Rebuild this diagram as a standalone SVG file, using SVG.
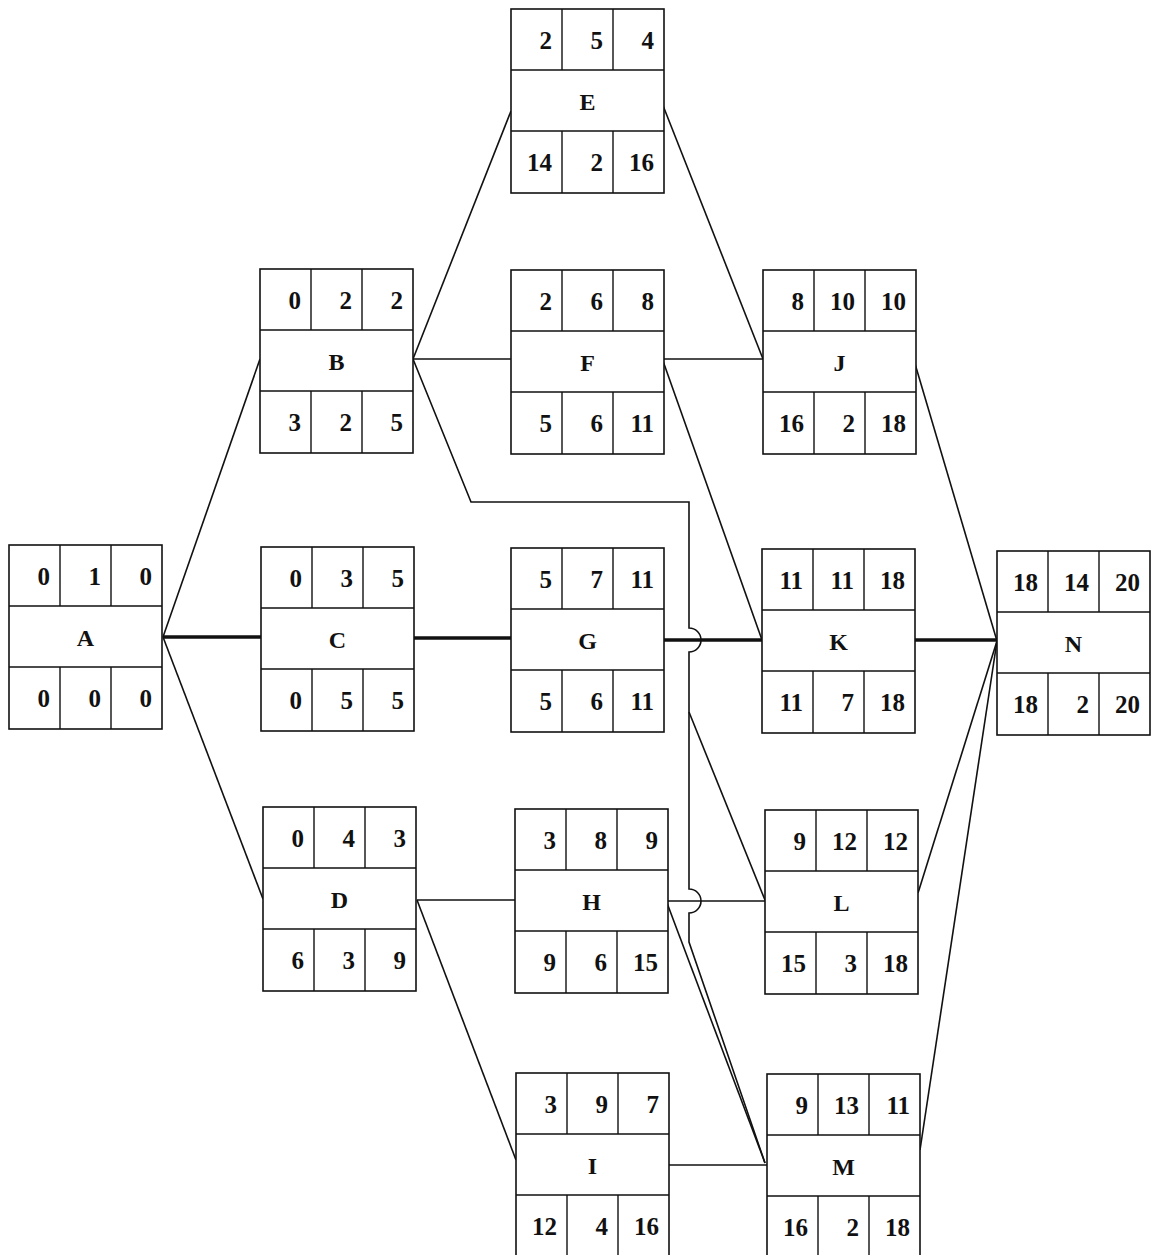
<svg xmlns="http://www.w3.org/2000/svg" width="1155" height="1255" viewBox="0 0 1155 1255">
<style>
.box{fill:#fff;stroke:#111;stroke-width:1.6}
.div{stroke:#111;stroke-width:1.4;fill:none}
.num{font-family:"Liberation Serif",serif;font-size:25px;font-weight:bold;fill:#111;text-anchor:end}
.lbl{font-family:"Liberation Serif",serif;font-size:24px;font-weight:bold;fill:#111;text-anchor:middle}
.c{stroke:#111;stroke-width:1.6;fill:none}
.h{stroke:#111;stroke-width:3.5;fill:none}
</style>
<defs>
<g id="grid">
<rect class="box" x="0" y="0" width="153" height="184"/>
<path class="div" d="M0 61H153M0 122H153M51 0V61M102 0V61M51 122V184M102 122V184"/>
</g>
</defs>
<rect width="1155" height="1255" fill="#fff"/>
<g id="connectors">
<path class="h" d="M163 637H261"/>
<path class="h" d="M413 638H511"/>
<path class="h" d="M663 640H762"/>
<path class="h" d="M915 640H997"/>
<path class="c" d="M163 637L260 359"/>
<path class="c" d="M163 637L263 899"/>
<path class="c" d="M413 359L511 111"/>
<path class="c" d="M413 359H511"/>
<path class="c" d="M413 359L471 502H689V628A12 12 0 0 1 689 652V889A12 12 0 0 1 689 913V942L765 1163"/>
<path class="c" d="M689 712L765 900"/>
<path class="c" d="M662 103L763 359"/>
<path class="c" d="M663 359H763"/>
<path class="c" d="M663 361L762 640"/>
<path class="c" d="M913 357L997 641"/>
<path class="c" d="M918 893L997 641"/>
<path class="c" d="M920 1150L997 641"/>
<path class="c" d="M417 900H515"/>
<path class="c" d="M417 900L516 1160"/>
<path class="c" d="M667 901H765"/>
<path class="c" d="M667 903L765 1163"/>
<path class="c" d="M668 1165H767"/>
</g>
<g id="A" transform="translate(9,545)"><use href="#grid"/>
<text class="num" x="41" y="40">0</text><text class="num" x="92" y="40">1</text><text class="num" x="143" y="40">0</text>
<text class="lbl" x="76.5" y="101">A</text>
<text class="num" x="41" y="162">0</text><text class="num" x="92" y="162">0</text><text class="num" x="143" y="162">0</text></g>
<g id="B" transform="translate(260,269)"><use href="#grid"/>
<text class="num" x="41" y="40">0</text><text class="num" x="92" y="40">2</text><text class="num" x="143" y="40">2</text>
<text class="lbl" x="76.5" y="101">B</text>
<text class="num" x="41" y="162">3</text><text class="num" x="92" y="162">2</text><text class="num" x="143" y="162">5</text></g>
<g id="C" transform="translate(261,547)"><use href="#grid"/>
<text class="num" x="41" y="40">0</text><text class="num" x="92" y="40">3</text><text class="num" x="143" y="40">5</text>
<text class="lbl" x="76.5" y="101">C</text>
<text class="num" x="41" y="162">0</text><text class="num" x="92" y="162">5</text><text class="num" x="143" y="162">5</text></g>
<g id="D" transform="translate(263,807)"><use href="#grid"/>
<text class="num" x="41" y="40">0</text><text class="num" x="92" y="40">4</text><text class="num" x="143" y="40">3</text>
<text class="lbl" x="76.5" y="101">D</text>
<text class="num" x="41" y="162">6</text><text class="num" x="92" y="162">3</text><text class="num" x="143" y="162">9</text></g>
<g id="E" transform="translate(511,9)"><use href="#grid"/>
<text class="num" x="41" y="40">2</text><text class="num" x="92" y="40">5</text><text class="num" x="143" y="40">4</text>
<text class="lbl" x="76.5" y="101">E</text>
<text class="num" x="41" y="162">14</text><text class="num" x="92" y="162">2</text><text class="num" x="143" y="162">16</text></g>
<g id="F" transform="translate(511,270)"><use href="#grid"/>
<text class="num" x="41" y="40">2</text><text class="num" x="92" y="40">6</text><text class="num" x="143" y="40">8</text>
<text class="lbl" x="76.5" y="101">F</text>
<text class="num" x="41" y="162">5</text><text class="num" x="92" y="162">6</text><text class="num" x="143" y="162">11</text></g>
<g id="G" transform="translate(511,548)"><use href="#grid"/>
<text class="num" x="41" y="40">5</text><text class="num" x="92" y="40">7</text><text class="num" x="143" y="40">11</text>
<text class="lbl" x="76.5" y="101">G</text>
<text class="num" x="41" y="162">5</text><text class="num" x="92" y="162">6</text><text class="num" x="143" y="162">11</text></g>
<g id="H" transform="translate(515,809)"><use href="#grid"/>
<text class="num" x="41" y="40">3</text><text class="num" x="92" y="40">8</text><text class="num" x="143" y="40">9</text>
<text class="lbl" x="76.5" y="101">H</text>
<text class="num" x="41" y="162">9</text><text class="num" x="92" y="162">6</text><text class="num" x="143" y="162">15</text></g>
<g id="I" transform="translate(516,1073)"><use href="#grid"/>
<text class="num" x="41" y="40">3</text><text class="num" x="92" y="40">9</text><text class="num" x="143" y="40">7</text>
<text class="lbl" x="76.5" y="101">I</text>
<text class="num" x="41" y="162">12</text><text class="num" x="92" y="162">4</text><text class="num" x="143" y="162">16</text></g>
<g id="J" transform="translate(763,270)"><use href="#grid"/>
<text class="num" x="41" y="40">8</text><text class="num" x="92" y="40">10</text><text class="num" x="143" y="40">10</text>
<text class="lbl" x="76.5" y="101">J</text>
<text class="num" x="41" y="162">16</text><text class="num" x="92" y="162">2</text><text class="num" x="143" y="162">18</text></g>
<g id="K" transform="translate(762,549)"><use href="#grid"/>
<text class="num" x="41" y="40">11</text><text class="num" x="92" y="40">11</text><text class="num" x="143" y="40">18</text>
<text class="lbl" x="76.5" y="101">K</text>
<text class="num" x="41" y="162">11</text><text class="num" x="92" y="162">7</text><text class="num" x="143" y="162">18</text></g>
<g id="L" transform="translate(765,810)"><use href="#grid"/>
<text class="num" x="41" y="40">9</text><text class="num" x="92" y="40">12</text><text class="num" x="143" y="40">12</text>
<text class="lbl" x="76.5" y="101">L</text>
<text class="num" x="41" y="162">15</text><text class="num" x="92" y="162">3</text><text class="num" x="143" y="162">18</text></g>
<g id="M" transform="translate(767,1074)"><use href="#grid"/>
<text class="num" x="41" y="40">9</text><text class="num" x="92" y="40">13</text><text class="num" x="143" y="40">11</text>
<text class="lbl" x="76.5" y="101">M</text>
<text class="num" x="41" y="162">16</text><text class="num" x="92" y="162">2</text><text class="num" x="143" y="162">18</text></g>
<g id="N" transform="translate(997,551)"><use href="#grid"/>
<text class="num" x="41" y="40">18</text><text class="num" x="92" y="40">14</text><text class="num" x="143" y="40">20</text>
<text class="lbl" x="76.5" y="101">N</text>
<text class="num" x="41" y="162">18</text><text class="num" x="92" y="162">2</text><text class="num" x="143" y="162">20</text></g>
</svg>
